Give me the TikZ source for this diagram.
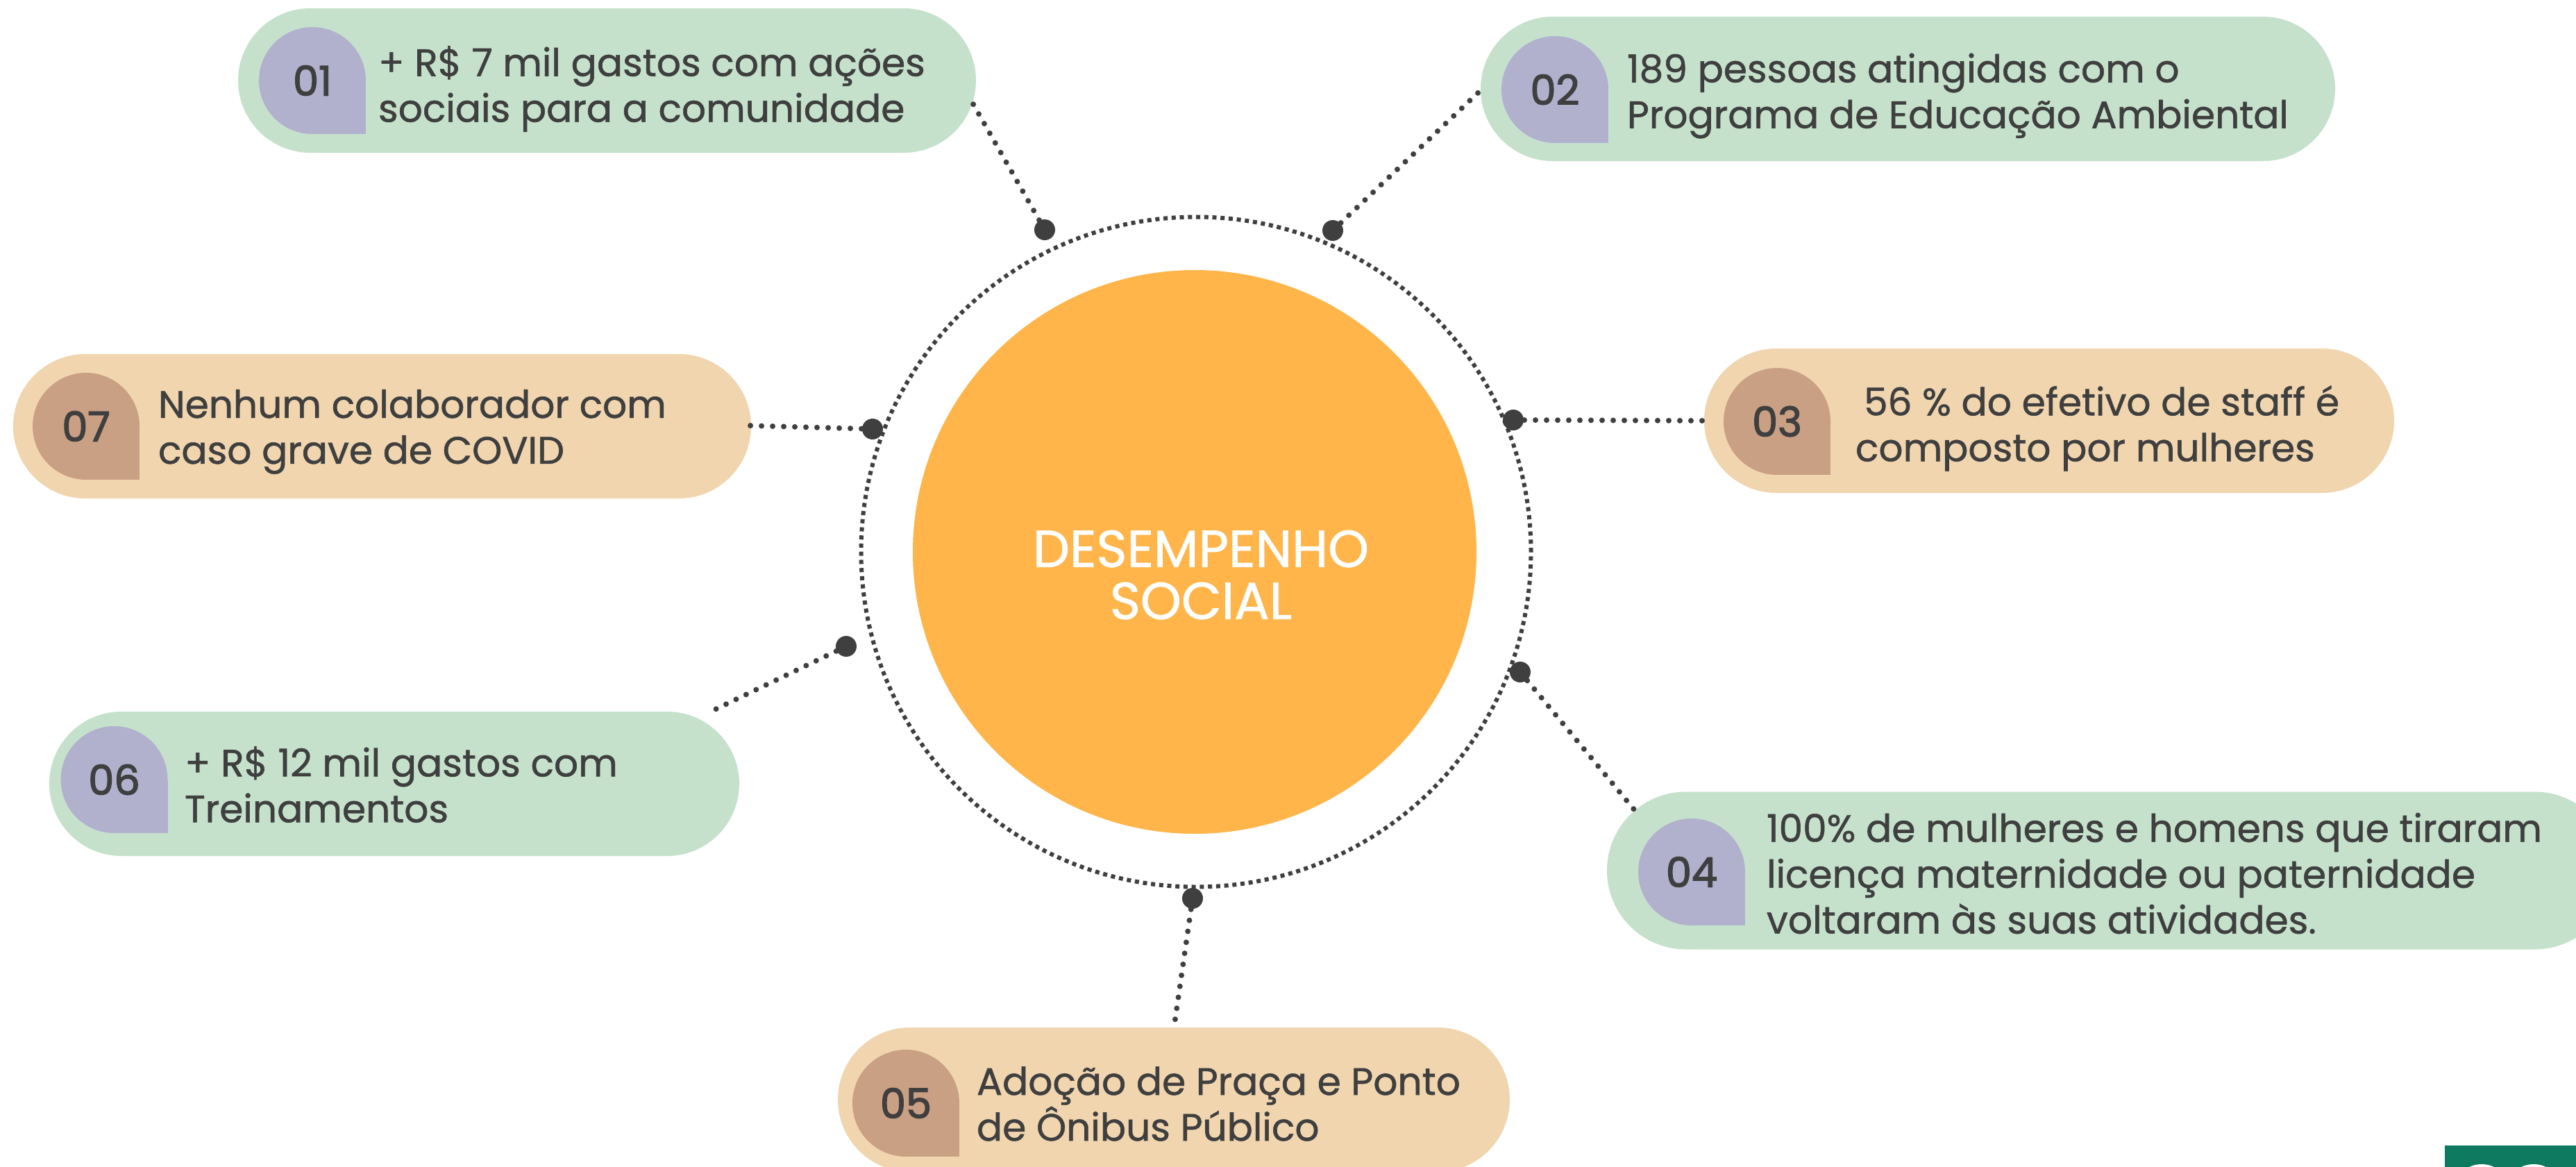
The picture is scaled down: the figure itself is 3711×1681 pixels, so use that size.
\documentclass[tikz,border=0pt]{standalone}
\usepackage{fontspec}
\setmainfont{Poppins}[FakeBold=1.0]
\newfontfamily\numfontb{Poppins}[FakeBold=2.4]
\usetikzlibrary{shapes.misc}
\definecolor{pgreen}{HTML}{C5E1CC}
\definecolor{ptan}{HTML}{F0D5AF}
\definecolor{dlav}{HTML}{B1B1CD}
\definecolor{dbrown}{HTML}{C9A084}
\definecolor{core}{HTML}{FFB54A}
\definecolor{ink}{HTML}{3F3F3F}
\definecolor{corner}{HTML}{0E7A60}
\tikzset{
  pill/.style={rounded rectangle,draw=none,inner sep=0pt,minimum height=41.6pt},
  drop/.style={circle,inner sep=0pt,minimum size=30.8pt,text=ink,font=\numfontb\fontsize{11.8}{11.8}\selectfont},
  body/.style={anchor=west,align=left,inner sep=0pt,text=ink,font=\fontsize{11}{13.2}\selectfont},
  hub/.style={circle,fill=ink,inner sep=0pt,minimum size=6pt},
  link/.style={draw=ink,line width=1.6pt,line cap=round,dash pattern=on 0pt off 3.2pt},
  ring/.style={circle,draw=ink,line width=1.2pt,dash pattern=on 1.2pt off 1.15pt,inner sep=0pt,minimum size=193pt},
}
\newcommand{\mkdrop}[5]{% name,x,y,colour,text
  \fill[#4] (#2,#3) rectangle (#2+77,#3+77);
  \node[drop,fill=#4] (#1) at (#2,#3) {#5};
}
\begin{document}
\begin{tikzpicture}[x=0.2pt,y=-0.2pt]
\useasboundingbox (0,0) rectangle (3711,1681);
\clip (0,0) rectangle (3711,1681);
% centre
\node[circle,fill=core,inner sep=0pt,minimum size=162.4pt] (core) at (1721,795) {};
\node[text=white,align=center,inner sep=0pt,font=\fontsize{15}{15}\selectfont] (title) at (1730,828) {DESEMPENHO\\SOCIAL};
\node[ring] (ringnode) at (1723,795) {};
% pills
\node[pill,minimum width=212.6pt,fill=pgreen] (p1) at (874.5,116) {};
\node[pill,minimum width=246.2pt,fill=pgreen] (p2) at (2748.5,128) {};
\node[pill,minimum width=198.8pt,fill=ptan] (p3) at (2952,606) {};
\node[rounded rectangle,inner sep=0pt,minimum width=290pt,minimum height=45.4pt,fill=pgreen] (p4) at (3040,1254) {};
\node[pill,minimum width=193.6pt,fill=ptan] (p5) at (1691,1584) {};
\node[pill,minimum width=198.8pt,fill=pgreen] (p6) at (568,1129) {};
\node[pill,minimum width=212.6pt,fill=ptan] (p7) at (550.5,614) {};
% drops
\mkdrop{d1}{450}{116}{dlav}{01}
\mkdrop{d2}{2240}{129}{dlav}{02}
\mkdrop{d3}{2560}{607}{dbrown}{03}
\mkdrop{d4}{2437}{1256}{dlav}{04}
\mkdrop{d5}{1305}{1589}{dbrown}{05}
\mkdrop{d6}{164.5}{1123}{dlav}{06}
\mkdrop{d7}{124}{614}{dbrown}{07}
% texts
\node[body] (t1) at (544,128) {+ R\$ 7 mil gastos com ações\\sociais para a comunidade};
\node[body] (t2) at (2343,138) {189 pessoas atingidas com o\\Programa de Educação Ambiental};
\node[body] (t3) at (2672,617) {\hspace{2.4pt}56 \% do efetivo de staff é\\composto por mulheres};
\node[body] (t4) at (2544,1258) {100\% de mulheres e homens que tiraram\\licença maternidade ou paternidade\\voltaram às suas atividades.};
\node[body] (t5) at (1406,1590) {Adoção de Praça e Ponto\\de Ônibus Público};
\node[body] (t6) at (265,1130) {+ R\$ 12 mil gastos com\\Treinamentos};
\node[body] (t7) at (227,622) {Nenhum colaborador com\\caso grave de COVID};
% hubs
\node[hub] (h1) at (1505,331) {};
\node[hub] (h2) at (1920,332) {};
\node[hub] (h3) at (2180,605) {};
\node[hub] (h4) at (2190,968) {};
\node[hub] (h5) at (1718,1294) {};
\node[hub] (h6) at (1219,931) {};
\node[hub] (h7) at (1257,618) {};
% free ends
\coordinate (e1) at (1402,150);
\coordinate (e2) at (2130,133);
\coordinate (e3) at (2455,606);
\coordinate (e4) at (2359,1172);
\coordinate (e5) at (1692,1475);
\coordinate (e6) at (1030,1022);
\coordinate (e7) at (1079,613);
\foreach \i in {1,...,7}{\draw[link] (h\i) -- (e\i);}
% corner
\fill[corner] (3522,1650) rectangle (3711,1681);
\fill[white] (3575,1692) ellipse [x radius=26,y radius=15];
\fill[white] (3650,1692) ellipse [x radius=26,y radius=15];
\end{tikzpicture}
\end{document}
